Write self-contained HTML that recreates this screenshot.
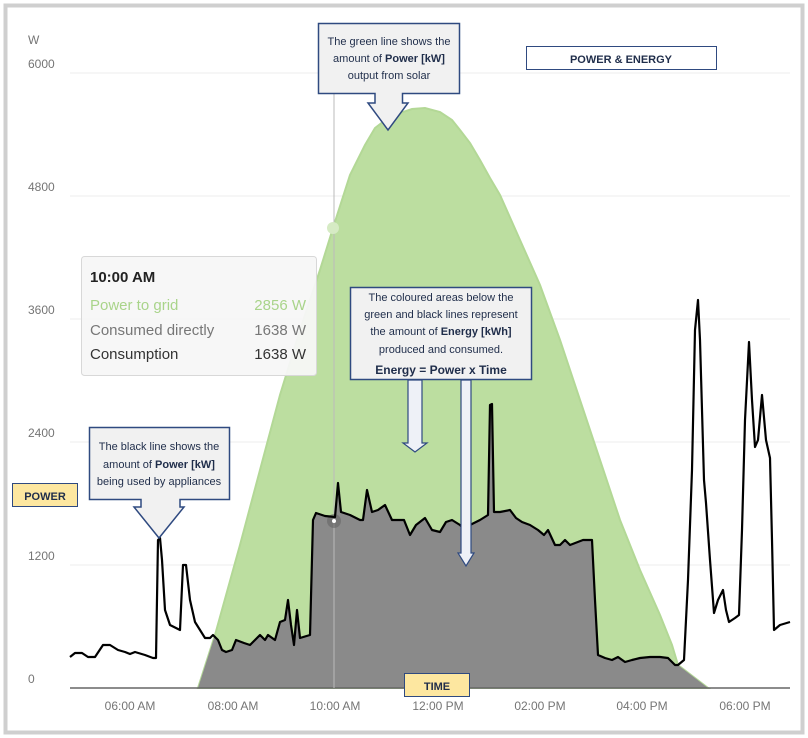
<!DOCTYPE html>
<html><head><meta charset="utf-8"><style>
body{margin:0;background:#fff}
svg{display:block}
.ax{font-family:"Liberation Sans",sans-serif;font-size:12px;fill:#757575}
.an{font-family:"Liberation Sans",sans-serif;font-size:11px;fill:#1f2d4a}
.tt{font-family:"Liberation Sans",sans-serif;font-size:15px}
</style></head><body>
<svg width="808" height="738" viewBox="0 0 808 738" xmlns="http://www.w3.org/2000/svg">
<rect x="0" y="0" width="808" height="738" fill="#fff"/>
<rect x="5.5" y="5.5" width="797" height="727" fill="none" stroke="#cfcfcf" stroke-width="4"/>
<!-- grid -->
<g stroke="#ececec" stroke-width="1">
<line x1="70" y1="73" x2="790" y2="73"/><line x1="70" y1="196" x2="790" y2="196"/>
<line x1="70" y1="319" x2="790" y2="319"/><line x1="70" y1="442" x2="790" y2="442"/>
<line x1="70" y1="565" x2="790" y2="565"/>
</g>
<g class="ax">
<text x="28" y="44">W</text>
<text x="28" y="68">6000</text><text x="28" y="191">4800</text><text x="28" y="314">3600</text>
<text x="28" y="437">2400</text><text x="28" y="560">1200</text><text x="28" y="683">0</text>
<text x="130" y="710" text-anchor="middle">06:00 AM</text>
<text x="233" y="710" text-anchor="middle">08:00 AM</text>
<text x="335" y="710" text-anchor="middle">10:00 AM</text>
<text x="438" y="710" text-anchor="middle">12:00 PM</text>
<text x="540" y="710" text-anchor="middle">02:00 PM</text>
<text x="642" y="710" text-anchor="middle">04:00 PM</text>
<text x="745" y="710" text-anchor="middle">06:00 PM</text>
</g>
<defs>
<clipPath id="gc"><polygon id="gp" points="198,688 215,635 240,545 260,470 280,395 300,330 320,270 333,228 350,175 365,145 375,128 388,118 400,113 412,109 425,108 440,112 452,120 460,130 470,143 480,160 490,178 500,195 520,240 540,285 560,340 580,400 600,460 620,520 640,570 660,615 672,645 678,665 708,688"/></clipPath>
</defs>
<polygon points="198,688 215,635 240,545 260,470 280,395 300,330 320,270 333,228 350,175 365,145 375,128 388,118 400,113 412,109 425,108 440,112 452,120 460,130 470,143 480,160 490,178 500,195 520,240 540,285 560,340 580,400 600,460 620,520 640,570 660,615 672,645 678,665 708,688" fill="#bcdea0" stroke="#b3d896" stroke-width="2"/>
<g clip-path="url(#gc)">
<polygon fill="#8a8a8a" points="70,688 70,657 75,653 82,653 88,657 95,657 103,645 110,645 118,650 125,652 130,654 135,652 145,655 153,658 156,658 158,540 160,538 162,560 165,610 170,625 180,630 183,565 186,565 190,600 195,622 200,630 205,638 210,638 213,635 218,640 222,650 226,652 232,650 236,640 244,643 250,645 255,640 260,635 265,640 268,635 275,640 280,622 285,620 288,600 291,625 294,645 297,610 300,638 310,635 313,520 316,513 325,516 335,517 338,483 341,512 350,515 360,520 363,520 367,490 372,512 378,510 385,505 392,520 400,520 404,520 410,535 416,525 425,518 432,530 440,532 446,522 452,520 460,525 465,530 470,525 480,520 488,515 490,405 492,404 494,512 500,512 510,510 516,518 522,522 530,525 538,530 544,535 548,530 555,545 560,545 565,540 570,545 583,540 592,540 595,600 598,655 605,658 612,660 618,657 625,662 632,660 640,658 650,657 660,657 668,658 675,665 678,665 684,660 688,580 692,470 695,330 698,300 700,340 704,480 706,503 710,560 714,613 718,600 723,590 726,610 729,622 735,618 739,615 742,530 745,420 749,342 752,400 755,447 758,440 762,395 766,440 770,458 772,540 774,630 780,625 790,622 790,688"/>
</g>
<line x1="70" y1="688" x2="790" y2="688" stroke="#666" stroke-width="1.5"/>
<line x1="334" y1="93" x2="334" y2="688" stroke="#bbb" stroke-width="1"/>
<circle cx="334" cy="521" r="7" fill="#666" opacity="0.6"/><circle cx="334" cy="521" r="2" fill="#fff"/>
<circle cx="333" cy="228" r="6" fill="#d6ebc4"/>
<polyline fill="none" stroke="#000" stroke-width="2.2" stroke-linejoin="round" points="70,657 75,653 82,653 88,657 95,657 103,645 110,645 118,650 125,652 130,654 135,652 145,655 153,658 156,658 158,540 160,538 162,560 165,610 170,625 180,630 183,565 186,565 190,600 195,622 200,630 205,638 210,638 213,635 218,640 222,650 226,652 232,650 236,640 244,643 250,645 255,640 260,635 265,640 268,635 275,640 280,622 285,620 288,600 291,625 294,645 297,610 300,638 310,635 313,520 316,513 325,516 335,517 338,483 341,512 350,515 360,520 363,520 367,490 372,512 378,510 385,505 392,520 400,520 404,520 410,535 416,525 425,518 432,530 440,532 446,522 452,520 460,525 465,530 470,525 480,520 488,515 490,405 492,404 494,512 500,512 510,510 516,518 522,522 530,525 538,530 544,535 548,530 555,545 560,545 565,540 570,545 583,540 592,540 595,600 598,655 605,658 612,660 618,657 625,662 632,660 640,658 650,657 660,657 668,658 675,665 678,665 684,660 688,580 692,470 695,330 698,300 700,340 704,480 706,503 710,560 714,613 718,600 723,590 726,610 729,622 735,618 739,615 742,530 745,420 749,342 752,400 755,447 758,440 762,395 766,440 770,458 772,540 774,630 780,625 790,622"/>
<!-- tooltip -->
<rect x="81.5" y="256.5" width="235" height="119" rx="3" fill="#f7f7f7" fill-opacity="0.95" stroke="#d8d8d8"/>
<g class="tt">
<text x="90" y="282" font-weight="bold" fill="#222">10:00 AM</text>
<text x="90" y="310" fill="#a9d48a">Power to grid</text><text x="306" y="310" text-anchor="end" fill="#a9d48a">2856 W</text>
<text x="90" y="335" fill="#777">Consumed directly</text><text x="306" y="335" text-anchor="end" fill="#777">1638 W</text>
<text x="90" y="359" fill="#333">Consumption</text><text x="306" y="359" text-anchor="end" fill="#333">1638 W</text>
</g>
<!-- green line callout -->
<path d="M318.5,23.5 H459.5 V93.5 H402.5 V103 H408 L388,130 L368,103 H375 V93.5 H318.5 Z" fill="#f1f1f1" stroke="#2f4a80" stroke-width="1.5"/>
<g class="an" text-anchor="middle"><text x="389" y="45">The green line shows the</text><text x="389" y="62">amount of <tspan font-weight="bold">Power [kW]</tspan></text><text x="389" y="79">output from solar</text></g>
<rect x="526.5" y="46.5" width="190" height="23" fill="#fff" stroke="#2f4a80"/>
<text class="an" x="621" y="63" text-anchor="middle" font-weight="bold" font-size="12">POWER &amp; ENERGY</text>
<!-- black line callout -->
<path d="M89.5,427.5 H229.5 V499.5 H180 V507 H184 L159,538 L134,507 H141 V499.5 H89.5 Z" fill="#f1f1f1" stroke="#2f4a80" stroke-width="1.5"/>
<g class="an" text-anchor="middle"><text x="159" y="450">The black line shows the</text><text x="159" y="468">amount of <tspan font-weight="bold">Power [kW]</tspan></text><text x="159" y="485">being used by appliances</text></g>
<!-- energy callout -->
<path d="M408,380 V443 H403 L415,452 L427,443 H422 V380 Z" fill="#eef1f7" stroke="#2f4a80" stroke-width="1.2"/>
<path d="M461,380 V553 H458 L466,566 L474,553 H471 V380 Z" fill="#eef1f7" stroke="#2f4a80" stroke-width="1.2"/>
<rect x="350.5" y="287.5" width="181" height="92" fill="#f1f1f1" stroke="#2f4a80" stroke-width="1.5"/>
<g class="an" text-anchor="middle"><text x="441" y="301">The coloured areas below the</text><text x="441" y="318">green and black lines represent</text><text x="441" y="335">the amount of <tspan font-weight="bold">Energy [kWh]</tspan></text><text x="441" y="353">produced and consumed.</text><text x="441" y="374" font-weight="bold" font-size="12">Energy = Power x Time</text></g>
<!-- labels -->
<rect x="12.5" y="483.5" width="65" height="23" fill="#fde7a0" stroke="#2f4a80"/>
<text class="an" x="45" y="500" text-anchor="middle" font-weight="bold" font-size="12">POWER</text>
<rect x="404.5" y="673.5" width="65" height="23" fill="#fde7a0" stroke="#2f4a80"/>
<text class="an" x="437" y="690" text-anchor="middle" font-weight="bold" font-size="12">TIME</text>
</svg>
</body></html>
